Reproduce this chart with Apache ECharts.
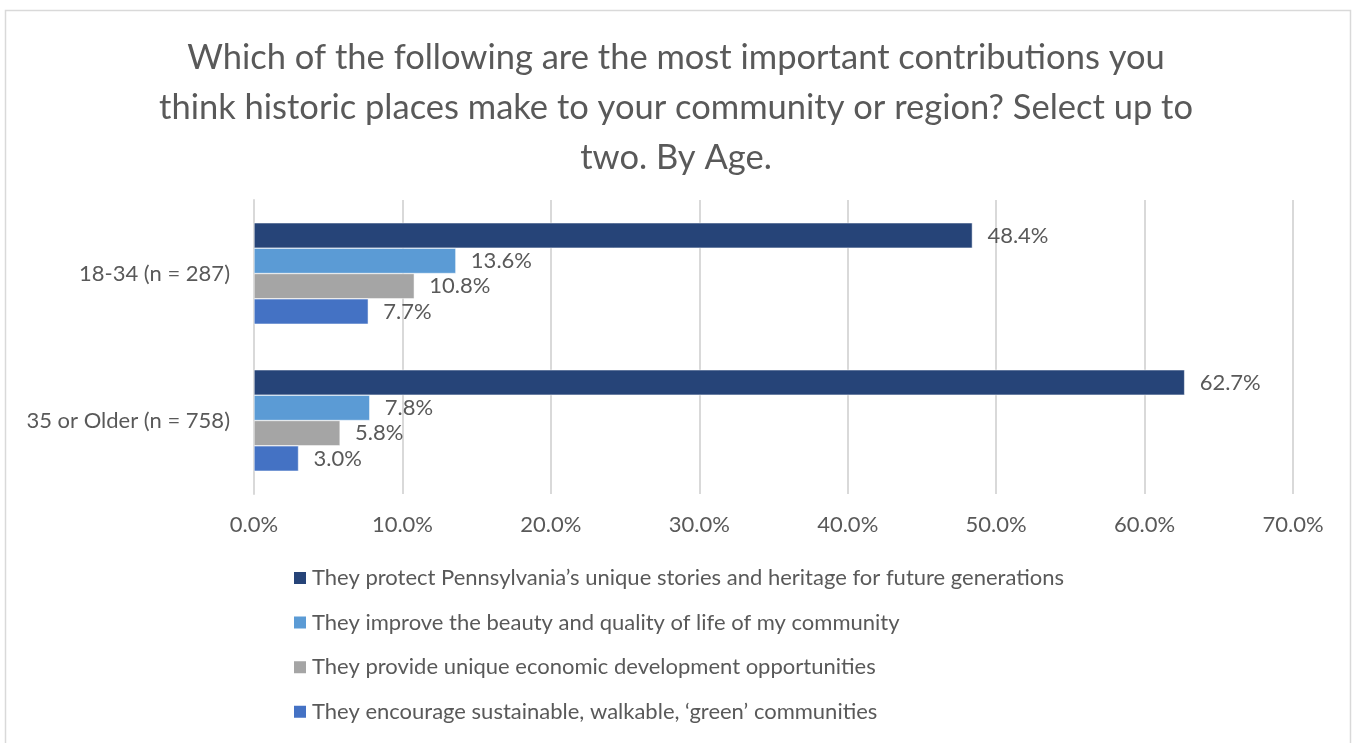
<!DOCTYPE html>
<html>
<head>
<meta charset="utf-8">
<title>Contributions of historic places by age</title>
<script src="https://cdn.jsdelivr.net/npm/echarts@6/dist/echarts.min.js"></script>
<style>
  html, body { margin: 0; padding: 0; background: #ffffff; }
  #chart { width: 1352px; height: 743px; }
</style>
</head>
<body>
<div id="chart"></div>
<script>
// Age groups (top to bottom)
const categories = ['18-34 (n = 287)', '35 or Older (n = 758)'];

// Series names, as shown in the legend
const seriesNames = [
  'They protect Pennsylvania\u2019s unique stories and heritage for future generations',
  'They improve the beauty and quality of life of my community',
  'They provide unique economic development opportunities',
  'They encourage sustainable, walkable, \u2018green\u2019 communities'
];

// Percentages per series, one value per age group
const protectHeritage = [48.4, 62.7];
const improveBeauty = [13.6, 7.8];
const economicDevelopment = [10.8, 5.8];
const sustainableCommunities = [7.7, 3.0];

// Value axis ticks
const xTicks = [0, 10, 20, 30, 40, 50, 60, 70];

const seriesValues = [protectHeritage, improveBeauty, economicDevelopment, sustainableCommunities];
const colors = ['#264478', '#5B9BD5', '#A5A5A5', '#4472C4'];
const textColor = '#595959';
const fontFamily = 'Lato, "Open Sans", sans-serif';

const chart = echarts.init(document.getElementById('chart'), null, { renderer: 'canvas' });

chart.setOption({
  backgroundColor: '#ffffff',
  animation: false,
  textStyle: { fontFamily: fontFamily, color: textColor },
  graphic: [{
    type: 'rect',
    shape: { x: 5.5, y: 10.5, width: 1345, height: 760 },
    style: { fill: 'none', stroke: '#d9d9d9', lineWidth: 1.5 },
    silent: true,
    z: -10
  }],
  title: {
    text: 'Which of the following are the most important contributions you\nthink historic places make to your community or region? Select up to\ntwo. By Age.',
    left: 'center',
    top: 28,
    textStyle: {
      fontFamily: fontFamily,
      fontSize: 34.5,
      fontWeight: 'normal',
      color: textColor,
      lineHeight: 50,
      align: 'center'
    }
  },
  legend: {
    orient: 'vertical',
    left: 292,
    top: 567,
    height: 200,
    padding: 0,
    itemWidth: 14,
    itemHeight: 14,
    itemGap: 22.6,
    icon: 'rect',
    data: seriesNames,
    textStyle: { fontFamily: fontFamily, fontSize: 22, lineHeight: 22, color: textColor },
    selectedMode: false
  },
  grid: {
    left: 254,
    right: 59,
    top: 200,
    bottom: 249,
    containLabel: false
  },
  xAxis: {
    type: 'value',
    min: xTicks[0],
    max: xTicks[xTicks.length - 1],
    interval: 10,
    axisLine: { show: false },
    axisTick: { show: false },
    splitLine: { show: true, lineStyle: { color: '#d9d9d9', width: 2 } },
    axisLabel: {
      fontFamily: fontFamily,
      fontSize: 22,
      color: textColor,
      margin: 20,
      formatter: v => v.toFixed(1) + '%'
    }
  },
  yAxis: {
    type: 'category',
    data: categories,
    inverse: true,
    axisLine: { show: true, lineStyle: { color: '#d9d9d9', width: 2 } },
    axisTick: { show: false },
    axisLabel: {
      fontFamily: fontFamily,
      fontSize: 22,
      color: textColor,
      margin: 24
    }
  },
  series: seriesNames.map((name, i) => ({
    name: name,
    type: 'bar',
    data: seriesValues[i],
    barGap: '0%',
    barCategoryGap: '31%',
    itemStyle: { color: colors[i], borderColor: '#ffffff', borderWidth: 0.5 },
    label: {
      show: true,
      position: 'right',
      distance: 15,
      fontFamily: fontFamily,
      fontSize: 22,
      color: textColor,
      formatter: p => p.value.toFixed(1) + '%'
    }
  }))
});
</script>
</body>
</html>
